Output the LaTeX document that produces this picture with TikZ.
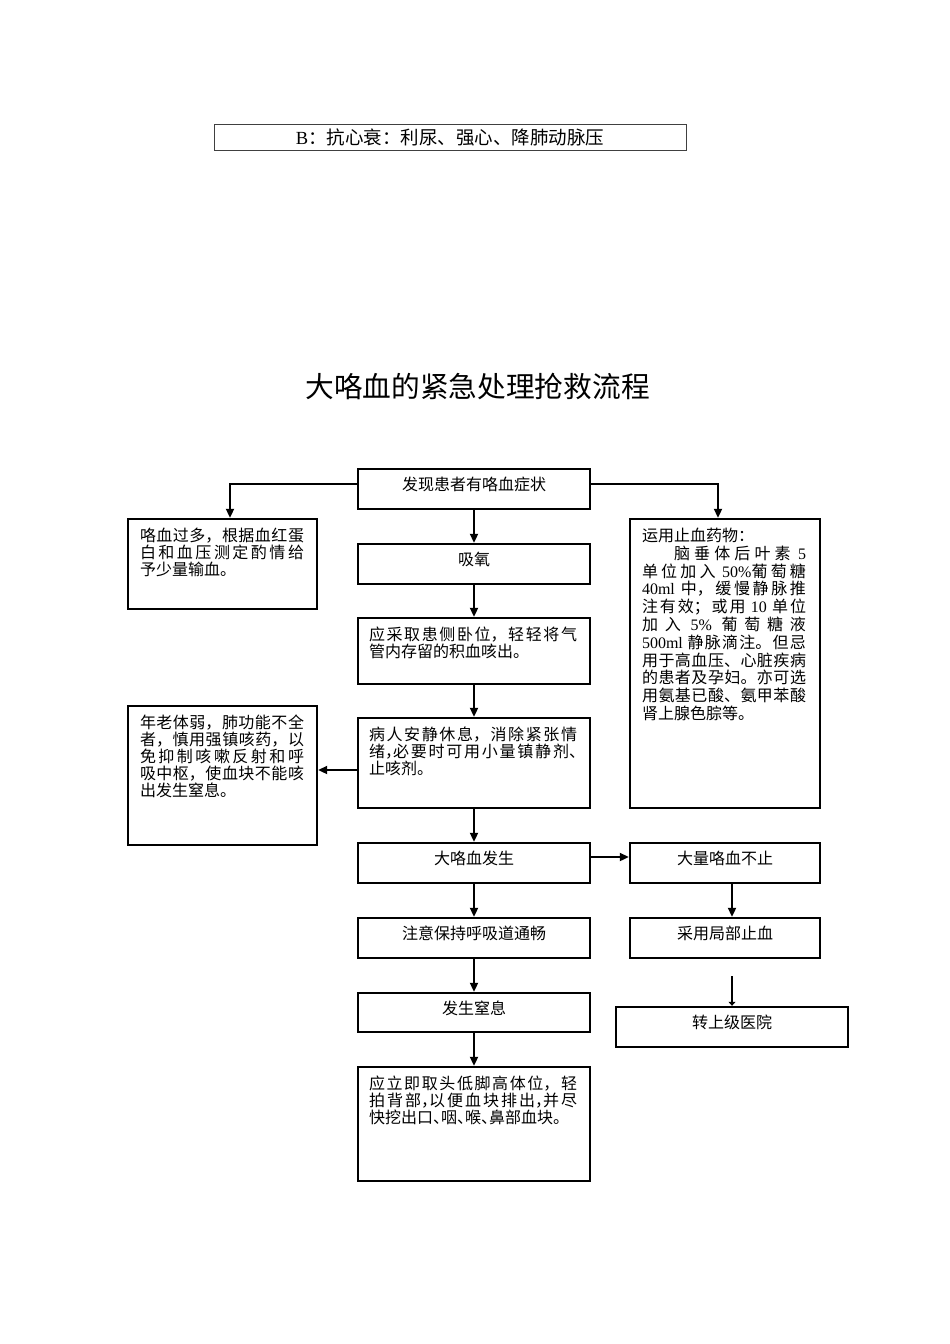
\documentclass[tikz,border=0pt]{standalone}
\usepackage{fontspec}
\setmainfont{Liberation Serif}
\newfontfamily\cjk{Noto Sans CJK SC}
\usetikzlibrary{arrows.meta}
\XeTeXlinebreaklocale "zh"
\XeTeXlinebreakskip=0pt plus 2pt
\newcommand\latn[1]{{\rmfamily #1}}
\newcommand\dun{\makebox[.5em][l]{、}}
\newcommand\cm{\makebox[.5em][l]{，}}
\begin{document}
\begin{tikzpicture}[x=1pt,y=-1pt,
  box/.style={draw, line width=2.4pt, inner sep=0, minimum width=232pt, minimum height=40pt},
  txt/.style={inner sep=0, font=\cjk\fontsize{16pt}{17pt}\selectfont,
    execute at begin node={\tolerance=10000 \hbadness=10000 }},
  one/.style={txt, anchor=base},
  multi/.style={txt, anchor=north west, align=justify},
  arr/.style={line width=2pt, -{Triangle[length=9pt,width=8pt]}},
  smallarr/.style={line width=2pt, -{Triangle[length=4pt,width=7pt]}}]
\useasboundingbox (0,0) rectangle (950,1344);

% top box
\node[draw=black!75, line width=0.9pt, minimum width=472pt, minimum height=26pt, inner sep=0] (top) at (450,137) {};
\node[txt, font=\cjk\fontsize{18.5pt}{20pt}\selectfont] (topt) at (450,137) {\latn{B}：抗心衰：利尿、强心、降肺动脉压};

% title
\node[inner sep=0, font=\cjk\fontsize{28.7pt}{30pt}\selectfont] (title) at (477.5,386) {大咯血的紧急处理抢救流程};

% boxes
\node[box] (A) at (474,489) {};
\node[box, minimum width=189pt, minimum height=90pt] (L1) at (222.5,564) {};
\node[box] (B) at (474,564) {};
\node[box, minimum height=66pt] (C) at (474,651) {};
\node[box, minimum width=190pt, minimum height=289pt] (R1) at (725,663.5) {};
\node[box, minimum width=189pt, minimum height=139pt] (L2) at (222.5,775.5) {};
\node[box, minimum height=90pt] (D) at (474,763) {};
\node[box] (E) at (474,863) {};
\node[box, minimum width=190pt] (F) at (725,863) {};
\node[box] (G) at (474,938) {};
\node[box, minimum width=190pt] (H) at (725,938) {};
\node[box, minimum height=39pt] (I) at (474,1012.5) {};
\node[box] (J) at (732,1027) {};
\node[box, minimum height=114pt] (K) at (474,1124) {};

% texts
\node[one] (At) at ([yshift=-23pt]A.north) {发现患者有咯血症状};
\node[one] (Bt) at ([yshift=-23pt]B.north) {吸氧};
\node[one] (Et) at ([yshift=-23pt]E.north) {大咯血发生};
\node[one] (Ft) at ([yshift=-23pt]F.north) {大量咯血不止};
\node[one] (Gt) at ([yshift=-23pt]G.north) {注意保持呼吸道通畅};
\node[one] (Ht) at ([yshift=-23pt]H.north) {采用局部止血};
\node[one] (It) at ([yshift=-23pt]I.north) {发生窒息};
\node[one] (Jt) at ([yshift=-23pt]J.north) {转上级医院};

\node[multi, text width=164pt] (L1t) at ([xshift=13pt,yshift=-10pt]L1.north west)
 {咯血过多，根据血红蛋\linebreak 白和血压测定酌情给\linebreak 予少量输血。};
\node[multi, text width=208pt] (Ct) at ([xshift=12pt,yshift=-10pt]C.north west)
 {应采取患侧卧位，轻轻将气\linebreak 管内存留的积血咳出。};
\node[multi, text width=164pt, font=\cjk\fontsize{16pt}{17.8pt}\selectfont] (R1t) at ([xshift=13pt,yshift=-10pt]R1.north west)
 {运用止血药物：\\
 \hspace*{2em}脑垂体后叶素 \latn{5}\linebreak 单位加入 \latn{50\%}葡萄糖\linebreak
 \latn{40ml} 中，缓慢静脉推\linebreak 注有效；或用 \latn{10} 单位\linebreak
 加入 \latn{5\%} 葡萄糖液\linebreak \latn{500ml} 静脉滴注。但忌\linebreak
 用于高血压、心脏疾病\linebreak 的患者及孕妇。亦可选\linebreak
 用氨基已酸、氨甲苯酸\linebreak 肾上腺色腙等。};
\node[multi, text width=164pt] (L2t) at ([xshift=13pt,yshift=-10pt]L2.north west)
 {年老体弱，肺功能不全\linebreak 者，慎用强镇咳药，以\linebreak 免抑制咳嗽反射和呼\linebreak 吸中枢，使血块不能咳\linebreak 出发生窒息。};
\node[multi, text width=208pt] (Dt) at ([xshift=12pt,yshift=-10pt]D.north west)
 {病人安静休息，消除紧张情\linebreak 绪\cm 必要时可用小量镇静剂\dun\linebreak 止咳剂。};
\node[multi, text width=208pt] (Kt) at ([xshift=12pt,yshift=-10pt]K.north west)
 {应立即取头低脚高体位，轻\linebreak 拍背部\cm 以便血块排出\cm 并尽\linebreak 快挖出口\dun 咽\dun 喉\dun 鼻部血块。};

% connectors
\coordinate (a1) at ([yshift=5pt]A.west);
\draw[arr] (a1) -| ([xshift=7.5pt]L1.north);
\coordinate (a2) at ([yshift=5pt]A.east);
\draw[arr] (a2) -| ([xshift=-7pt]R1.north);
\draw[arr] (A) -- (B);
\draw[arr] (B) -- (C);
\draw[arr] (C) -- (D);
\draw[arr] (D) -- (E);
\draw[arr] (E) -- (G);
\draw[arr] (G) -- (I);
\draw[arr] (I) -- (K);
\coordinate (d1) at ([yshift=-7pt]D.west);
\draw[arr] (d1) -- (d1 -| L2.east);
\coordinate (e1) at ([yshift=6pt]E.east);
\draw[arr] (e1) -- (e1 -| F.west);
\coordinate (f1) at ([xshift=7pt]F.south);
\draw[arr] (f1) -- (f1 |- H.north);
\coordinate (hj) at (732,976);
\draw[smallarr] (hj) -- (J.north);
\end{tikzpicture}
\end{document}
